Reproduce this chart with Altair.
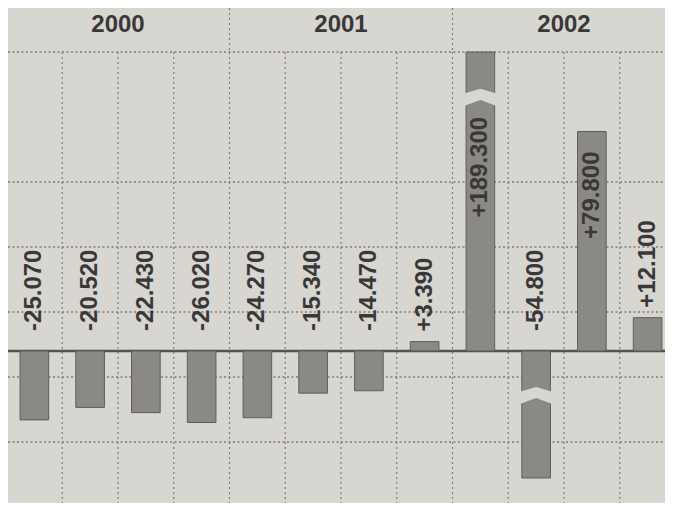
import altair as alt
import pandas as pd

# ---- data ----
years = ["2000", "2001", "2002"]
quarters = ["I", "II", "III", "IV"]
values = [-25.070, -20.520, -22.430, -26.020, -24.270, -15.340, -14.470,
          3.390, 189.300, -54.800, 79.800, 12.100]
value_labels = ["-25.070", "-20.520", "-22.430", "-26.020", "-24.270", "-15.340",
                "-14.470", "+3.390", "+189.300", "-54.800", "+79.800", "+12.100"]
# bars that are cut by a break mark, and the scale value of the cut
break_cols = ["2002-I", "2002-II"]
break_at = [92.4, -16.0]
# decorative horizontal grid rows (row 1 is not drawn in the original)
grid_rows = [0, 2, 3, 4, 5, 6, 7]

# ---- styling ----
PAPER = "#d8d6d1"
BAR = "#8b8986"
EDGE = "#5e5c59"
GRID = "#7f7c77"
ZERO = "#55534f"
TXT = "#3a3836"
FONT = "Liberation Sans"
W, H = 657, 426          # plot area
TOP, BOTTOM = 44, 25     # padding
ROW = 65

cols = [f"{y}-{q}" for y in years for q in quarters]
df = pd.DataFrame({
    "col": cols,
    "year": [y for y in years for q in quarters],
    "value": values,
    "label": value_labels,
})
df["brk"] = df["col"].map(dict(zip(break_cols, break_at)))
breaks_df = pd.DataFrame({"col": break_cols, "at": break_at})
header_df = pd.DataFrame({"year": years, "col": [f"{y}-II" for y in years]})
sep_df = pd.DataFrame({"col": [f"{y}-I" for y in years[1:]]})
grid_df = pd.DataFrame({"row": grid_rows})
zero_df = pd.DataFrame({"z": [0]})

# columns run a little past the right edge, as in the original
xscale = alt.Scale(domain=cols, range=[-1.5, 667.5], paddingInner=0, paddingOuter=0)
yscale = alt.Scale(domain=[-46.2, 108.7], clamp=True, nice=False, zero=False)
X = alt.X("col:N", scale=xscale, axis=None)
X0 = alt.X("col:N", scale=xscale, axis=None, bandPosition=0)

hgrid = alt.Chart(grid_df).mark_rule(color=GRID, strokeDash=[2, 2.5], strokeWidth=1.3).encode(
    y=alt.Y("row:Q", scale=alt.Scale(domain=[0, H / ROW], reverse=True, nice=False, zero=False), axis=None),
    x=alt.value(0), x2=alt.value(W),
)
vgrid = alt.Chart(df).mark_rule(color=GRID, strokeDash=[2, 3], strokeWidth=1.2).encode(
    x=X0, y=alt.value(0), y2=alt.value(H + BOTTOM),
)
sep = alt.Chart(sep_df).mark_rule(color=GRID, strokeDash=[2, 3], strokeWidth=1.2).encode(
    x=X0, y=alt.value(-TOP), y2=alt.value(0),
)
zero = alt.Chart(zero_df).mark_rule(color=ZERO, strokeWidth=2.5).encode(
    y=alt.Y("z:Q", scale=yscale, axis=None), x=alt.value(0), x2=alt.value(W),
)
bars = alt.Chart(df).mark_bar(width={"band": 0.513}, fill=BAR, stroke=EDGE, strokeWidth=1).encode(
    x=X, y=alt.Y("value:Q", scale=yscale, axis=None), y2=alt.datum(0),
)
CHEV = "M -1 -0.18 L 0 -0.47 L 1 -0.18 L 1 0.55 L 0 0.18 L -1 0.55 Z"
breaks = alt.Chart(breaks_df).mark_point(shape=CHEV, size=34 * 34, filled=True, fill=PAPER,
                                          strokeWidth=0, opacity=1).encode(
    x=X, y=alt.Y("at:Q", scale=yscale, axis=None),
)
txt = dict(angle=270, baseline="middle", font=FONT, fontSize=24, fontWeight="bold", color=TXT)
neg_lab = alt.Chart(df).transform_filter("datum.value < 0").transform_calculate(z="0").mark_text(
    align="left", dx=20, **txt).encode(
    x=X, y=alt.Y("z:Q", scale=yscale, axis=None), text="label:N",
)
pos_lab = alt.Chart(df).transform_filter("datum.value >= 0 && datum.value < 50").mark_text(
    align="left", dx=10, **txt).encode(
    x=X, y=alt.Y("value:Q", scale=yscale, axis=None), text="label:N",
)
in_lab = alt.Chart(df).transform_filter("datum.value >= 50").transform_calculate(
    anchor="isValid(datum.brk) ? datum.brk : datum.value"
).mark_text(align="right", dx=-20, **txt).encode(
    x=X, y=alt.Y("anchor:Q", scale=yscale, axis=None), text="label:N",
)
header = alt.Chart(header_df).mark_text(font=FONT, fontSize=24, fontWeight="bold", color=TXT,
                                        baseline="middle", align="center").encode(
    x=alt.X("col:N", scale=xscale, axis=None, bandPosition=1), y=alt.value(-27), text="year:N",
)

chart = alt.layer(hgrid, vgrid, sep, zero, bars, breaks, neg_lab, pos_lab, in_lab, header).resolve_scale(
    y="independent"
).properties(
    width=W, height=H, background=PAPER,
    padding={"left": 0, "right": 0, "top": TOP, "bottom": BOTTOM},
    autosize=alt.AutoSizeParams(type="none"),
).configure_view(stroke=None)

chart.save("out.html", embed_options={"renderer": "svg", "actions": False})
